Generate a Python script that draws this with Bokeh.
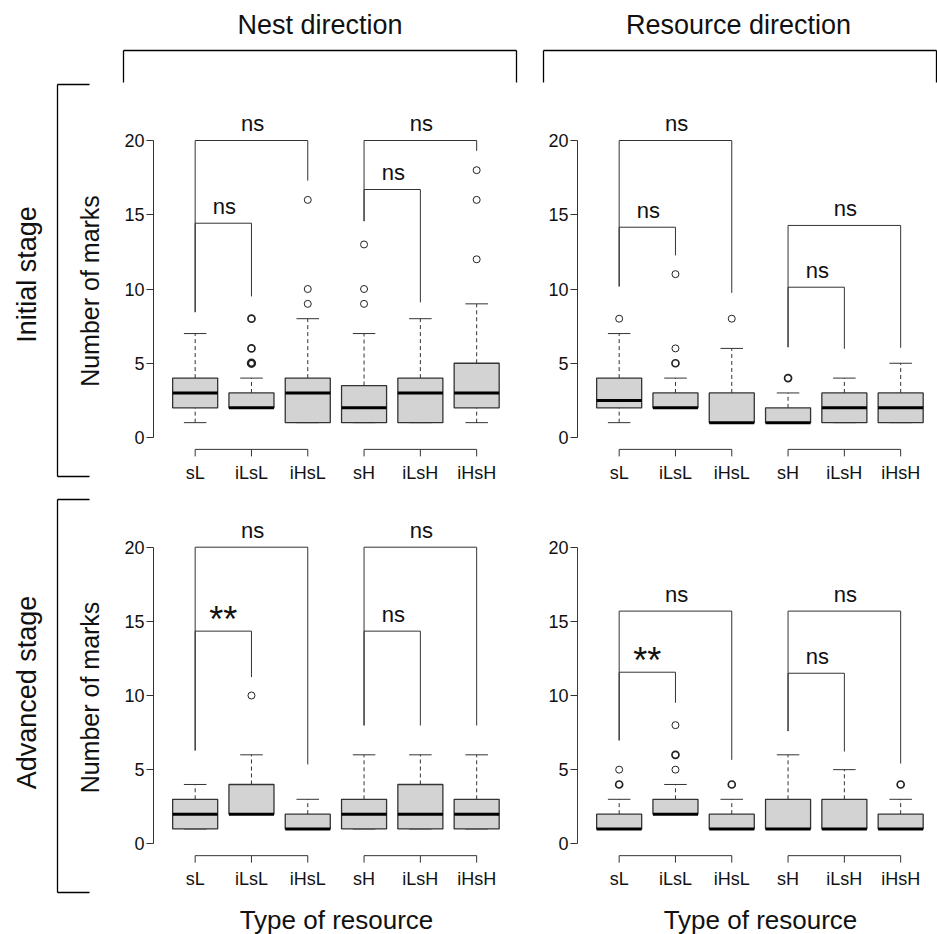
import math
from collections import Counter
from bokeh.plotting import figure
from bokeh.layouts import row, column
from bokeh.models import Range1d, FixedTicker, ColumnDataSource
from bokeh.core.properties import value
from bokeh.embed import file_html
from bokeh.resources import INLINE

FONT = "Liberation Sans"

# ---------------- data ----------------
categories = ["sL", "iLsL", "iHsL", "sH", "iLsH", "iHsH"]
y_ticks = [0, 5, 10, 15, 20]

# Initial stage - Nest direction
init_nest_lo = [1, 2, 1, 1, 1, 1]
init_nest_q1 = [2, 2, 1, 1, 1, 2]
init_nest_med = [3, 2, 3, 2, 3, 3]
init_nest_q3 = [4, 3, 4, 3.5, 4, 5]
init_nest_hi = [7, 4, 8, 7, 8, 9]
init_nest_out = [[], [5, 5, 5, 6, 6, 8, 8], [9, 10, 16], [9, 10, 13], [], [12, 16, 18]]

# Initial stage - Resource direction
init_res_lo = [1, 2, 1, 1, 1, 1]
init_res_q1 = [2, 2, 1, 1, 1, 1]
init_res_med = [2.5, 2, 1, 1, 2, 2]
init_res_q3 = [4, 3, 3, 2, 3, 3]
init_res_hi = [7, 4, 6, 3, 4, 5]
init_res_out = [[8], [5, 5, 6, 11], [8], [4, 4], [], []]

# Advanced stage - Nest direction
adv_nest_lo = [1, 2, 1, 1, 1, 1]
adv_nest_q1 = [1, 2, 1, 1, 1, 1]
adv_nest_med = [2, 2, 1, 2, 2, 2]
adv_nest_q3 = [3, 4, 2, 3, 4, 3]
adv_nest_hi = [4, 6, 3, 6, 6, 6]
adv_nest_out = [[], [10], [], [], [], []]

# Advanced stage - Resource direction
adv_res_lo = [1, 2, 1, 1, 1, 1]
adv_res_q1 = [1, 2, 1, 1, 1, 1]
adv_res_med = [1, 2, 1, 1, 1, 1]
adv_res_q3 = [2, 3, 2, 3, 3, 2]
adv_res_hi = [3, 4, 3, 6, 5, 3]
adv_res_out = [[4, 4, 5], [5, 6, 6, 8], [4, 4], [], [], [4, 4]]

# significance brackets: from category, to category, bar height, leg ends, label
init_nest_br_from = [1, 1, 4, 4]
init_nest_br_to = [3, 2, 6, 5]
init_nest_br_bar = [20, 14.43, 20, 16.7]
init_nest_br_lend = [8.44, 8.44, 14.57, 14.57]
init_nest_br_rend = [17.3, 9.5, 19.3, 9.1]
init_nest_br_lab = ["ns", "ns", "ns", "ns"]

init_res_br_from = [1, 1, 4, 4]
init_res_br_to = [3, 2, 6, 5]
init_res_br_bar = [20, 14.16, 14.28, 10.12]
init_res_br_lend = [10.17, 10.17, 6.08, 6.08]
init_res_br_rend = [9.74, 12.26, 6.04, 5.97]
init_res_br_lab = ["ns", "ns", "ns", "ns"]

adv_nest_br_from = [1, 1, 4, 4]
adv_nest_br_to = [3, 2, 6, 5]
adv_nest_br_bar = [20, 14.34, 20, 14.34]
adv_nest_br_lend = [6.29, 6.29, 7.98, 7.98]
adv_nest_br_rend = [5.35, 11.24, 7.98, 7.98]
adv_nest_br_lab = ["ns", "**", "ns", "ns"]

adv_res_br_from = [1, 1, 4, 4]
adv_res_br_to = [3, 2, 6, 5]
adv_res_br_bar = [15.69, 11.57, 15.69, 11.5]
adv_res_br_lend = [6.97, 6.97, 7.6, 7.6]
adv_res_br_rend = [5.66, 9.51, 5.41, 6.22]
adv_res_br_lab = ["ns", "**", "ns", "ns"]

col_titles = ["Nest direction", "Resource direction"]
row_titles = ["Initial stage", "Advanced stage"]
y_label = "Number of marks"
x_label = "Type of resource"

# ---------------- layout constants (page pixels) ----------------
PAGE_W = 937
PAGE_H = 934
LEFT_W = 110
TOP_H = 95
PPX = 56.3
X_AT_FRAME_LEFT = 0.26
COLS = [dict(fig_left=110, frame_left=153, frame_right=530, plot_right=519),
        dict(fig_left=530, frame_left=577, frame_right=937, plot_right=943)]
ROWS = [dict(y0=437.0, y20=140.0, top=95, frame_bottom=458, fig_bottom=488),
        dict(y0=843.3, y20=546.7, top=488, frame_bottom=864, fig_bottom=894)]
TXT_SHIFT = 8.0  # rendered alphabetic baseline sits this much lower than requested

BOX_W = 0.8
STAPLE_W = 0.4
LINE_C = "#333333"
TEXT_C = "#111111"


def make_panel(stats, brackets, col, rw, axis_color):
    lo, q1, med, q3, hi, out = stats
    bfrom, bto, bbar, blend, brend, blab = brackets
    ppu = (rw["y0"] - rw["y20"]) / 20.0
    y_start = (rw["y0"] - rw["frame_bottom"]) / ppu
    y_end = (rw["y0"] - rw["top"]) / ppu
    x_end = X_AT_FRAME_LEFT + (col["frame_right"] - col["frame_left"]) / PPX
    width = col["frame_right"] - col["fig_left"]
    height = rw["fig_bottom"] - rw["top"]

    p = figure(width=width, height=height,
               x_range=Range1d(X_AT_FRAME_LEFT, x_end),
               y_range=Range1d(y_start, y_end),
               output_backend="svg", toolbar_location=None,
               min_border_left=col["frame_left"] - col["fig_left"],
               min_border_right=0, min_border_top=0,
               min_border_bottom=rw["fig_bottom"] - rw["frame_bottom"])
    p.outline_line_color = None
    p.xgrid.visible = False
    p.ygrid.visible = False

    xs = list(range(1, len(categories) + 1))
    src = ColumnDataSource(dict(
        x=xs, lo=lo, q1=q1, med=med, q3=q3, hi=hi,
        l=[x - BOX_W / 2 for x in xs], r=[x + BOX_W / 2 for x in xs],
        sl=[x - STAPLE_W / 2 for x in xs], sr=[x + STAPLE_W / 2 for x in xs]))

    # whiskers
    p.segment(x0="x", y0="q3", x1="x", y1="hi", source=src, line_color=LINE_C,
              line_width=1, line_dash="4 3")
    p.segment(x0="x", y0="lo", x1="x", y1="q1", source=src, line_color=LINE_C,
              line_width=1, line_dash="4 3")
    # staples
    p.segment(x0="sl", y0="hi", x1="sr", y1="hi", source=src, line_color=LINE_C, line_width=1)
    p.segment(x0="sl", y0="lo", x1="sr", y1="lo", source=src, line_color=LINE_C, line_width=1)
    # boxes
    p.quad(left="l", right="r", bottom="q1", top="q3", source=src,
           fill_color="#D3D3D3", line_color=LINE_C, line_width=1.3)
    # medians
    p.segment(x0="l", y0="med", x1="r", y1="med", source=src, line_color="black", line_width=3)

    # outliers (repeated values drawn with heavier outline)
    ox, oy, ow = [], [], []
    for i, vals in enumerate(out):
        for v, n in Counter(vals).items():
            ox.append(i + 1)
            oy.append(v)
            ow.append(1.0 + 0.7 * (n - 1))
    if ox:
        p.scatter(x="x", y="y", line_width="w", source=ColumnDataSource(dict(x=ox, y=oy, w=ow)),
                  marker="circle", size=7, fill_color=None, line_color="#222222")

    # category axis segments (R style, drawn at bottom of plotting region)
    axis_y = -0.04 * 20
    tick_len = 7.0 / ppu
    groups = [(1, 3), (4, 6)]
    p.segment(x0=[g[0] for g in groups], y0=[axis_y] * 2, x1=[g[1] for g in groups],
              y1=[axis_y] * 2, line_color=LINE_C, line_width=1)
    p.segment(x0=xs, y0=[axis_y] * len(xs), x1=xs, y1=[axis_y - tick_len] * len(xs),
              line_color=LINE_C, line_width=1)

    # significance brackets
    p.segment(x0=bfrom, y0=blend, x1=bfrom, y1=bbar, line_color=LINE_C, line_width=1)
    p.segment(x0=bfrom, y0=bbar, x1=bto, y1=bbar, line_color=LINE_C, line_width=1)
    p.segment(x0=bto, y0=bbar, x1=bto, y1=brend, line_color=LINE_C, line_width=1)
    ns_x, ns_y, ns_t, st_x, st_y, st_t = [], [], [], [], [], []
    for a, b, h, t in zip(bfrom, bto, bbar, blab):
        if t == "ns":
            ns_x.append((a + b) / 2.0 + 0.02)
            ns_y.append(h + (9.0 + TXT_SHIFT) / ppu)
            ns_t.append(t)
        else:
            st_x.append((a + b) / 2.0)
            st_y.append(h + (-2.0 + TXT_SHIFT + 6.0) / ppu)
            st_t.append(t)
    p.text(x=ns_x, y=ns_y, text=ns_t, text_align="center", text_baseline="alphabetic",
           text_font=value(FONT), text_font_size="22px", text_color=TEXT_C)
    if st_x:
        p.text(x=st_x, y=st_y, text=st_t, text_align="center", text_baseline="alphabetic",
               text_font=value(FONT), text_font_size="36px", text_color=TEXT_C)

    # y axis
    ya = p.yaxis[0]
    ya.ticker = FixedTicker(ticks=y_ticks)
    ya.bounds = (min(y_ticks), max(y_ticks))
    ya.axis_line_color = axis_color
    ya.axis_line_width = 1
    ya.major_tick_line_color = LINE_C
    ya.major_tick_out = 7
    ya.major_tick_in = 0
    ya.minor_tick_line_color = None
    ya.major_label_standoff = 2
    ya.major_label_text_font = FONT
    ya.major_label_text_font_size = "18px"
    ya.major_label_text_color = TEXT_C

    # x axis (labels only)
    xa = p.xaxis[0]
    xa.ticker = FixedTicker(ticks=xs)
    xa.major_label_overrides = {x: c for x, c in zip(xs, categories)}
    xa.axis_line_color = None
    xa.major_tick_line_color = None
    xa.minor_tick_line_color = None
    xa.major_tick_out = 0
    xa.major_tick_in = 0
    xa.major_label_standoff = 4
    xa.major_label_text_font = FONT
    xa.major_label_text_font_size = "18px"
    xa.major_label_text_color = TEXT_C
    return p


def strip(width, height):
    p = figure(width=width, height=height, x_range=Range1d(0, width), y_range=Range1d(height, 0),
               x_axis_type=None, y_axis_type=None, output_backend="svg", toolbar_location=None,
               min_border_left=0, min_border_right=0, min_border_top=0, min_border_bottom=0)
    p.outline_line_color = None
    p.grid.visible = False
    return p


p1 = make_panel((init_nest_lo, init_nest_q1, init_nest_med, init_nest_q3, init_nest_hi, init_nest_out),
                (init_nest_br_from, init_nest_br_to, init_nest_br_bar, init_nest_br_lend,
                 init_nest_br_rend, init_nest_br_lab), COLS[0], ROWS[0], LINE_C)
p2 = make_panel((init_res_lo, init_res_q1, init_res_med, init_res_q3, init_res_hi, init_res_out),
                (init_res_br_from, init_res_br_to, init_res_br_bar, init_res_br_lend,
                 init_res_br_rend, init_res_br_lab), COLS[1], ROWS[0], LINE_C)
p3 = make_panel((adv_nest_lo, adv_nest_q1, adv_nest_med, adv_nest_q3, adv_nest_hi, adv_nest_out),
                (adv_nest_br_from, adv_nest_br_to, adv_nest_br_bar, adv_nest_br_lend,
                 adv_nest_br_rend, adv_nest_br_lab), COLS[0], ROWS[1], LINE_C)
p4 = make_panel((adv_res_lo, adv_res_q1, adv_res_med, adv_res_q3, adv_res_hi, adv_res_out),
                (adv_res_br_from, adv_res_br_to, adv_res_br_bar, adv_res_br_lend,
                 adv_res_br_rend, adv_res_br_lab), COLS[1], ROWS[1], "#7a1f1f")

# ---- left strip: row titles, row brackets, y axis label (page coordinates) ----
left = strip(LEFT_W, PAGE_H)
row_spans = [(84, 476), (499, 892)]
row_label_y = [274, 692]
ylab_y = [(r["y0"] + r["y20"]) / 2 + 2 for r in ROWS]
for (a, b) in row_spans:
    left.segment(x0=[57, 57, 57], y0=[a, a, b], x1=[57, 89, 89], y1=[b, a, b],
                 line_color="black", line_width=1.3)
left.text(x=[26, 26], y=row_label_y, text=row_titles, angle=math.pi / 2,
          text_align="center", text_baseline="middle", text_font=value(FONT),
          text_font_size="27px", text_color=TEXT_C)
left.text(x=[89, 89], y=ylab_y, text=[y_label, y_label], angle=math.pi / 2,
          text_align="center", text_baseline="middle", text_font=value(FONT),
          text_font_size="25px", text_color=TEXT_C)

# ---- top strip: column titles and brackets ----
RIGHT_W = PAGE_W - LEFT_W
top = strip(RIGHT_W, TOP_H)
col_spans = [(123, 516), (543, 936)]
col_centers = [319.5, 738]
for (a, b) in col_spans:
    top.segment(x0=[a - LEFT_W, a - LEFT_W, b - LEFT_W], y0=[50, 50, 50],
                x1=[b - LEFT_W, a - LEFT_W, b - LEFT_W], y1=[50, 82, 82],
                line_color="black", line_width=1.3)
top.text(x=[c - LEFT_W for c in col_centers], y=[32.3 - TXT_SHIFT] * 2, text=col_titles,
         text_align="center", text_baseline="alphabetic", text_font=value(FONT),
         text_font_size="27px", text_color=TEXT_C)

# ---- bottom strip: x axis titles ----
BOT_TOP = ROWS[1]["fig_bottom"]
bottom = strip(RIGHT_W, PAGE_H - BOT_TOP)
xl_centers = [(c["frame_left"] + c["plot_right"]) / 2 for c in COLS]
bottom.text(x=[c - LEFT_W for c in xl_centers], y=[927 - BOT_TOP - TXT_SHIFT] * 2,
            text=[x_label, x_label], text_align="center", text_baseline="alphabetic",
            text_font=value(FONT), text_font_size="26px", text_color=TEXT_C)

layout = row(left, column(top, row(p1, p2), row(p3, p4), bottom))

open("out.html", "w").write(file_html(layout, INLINE))
